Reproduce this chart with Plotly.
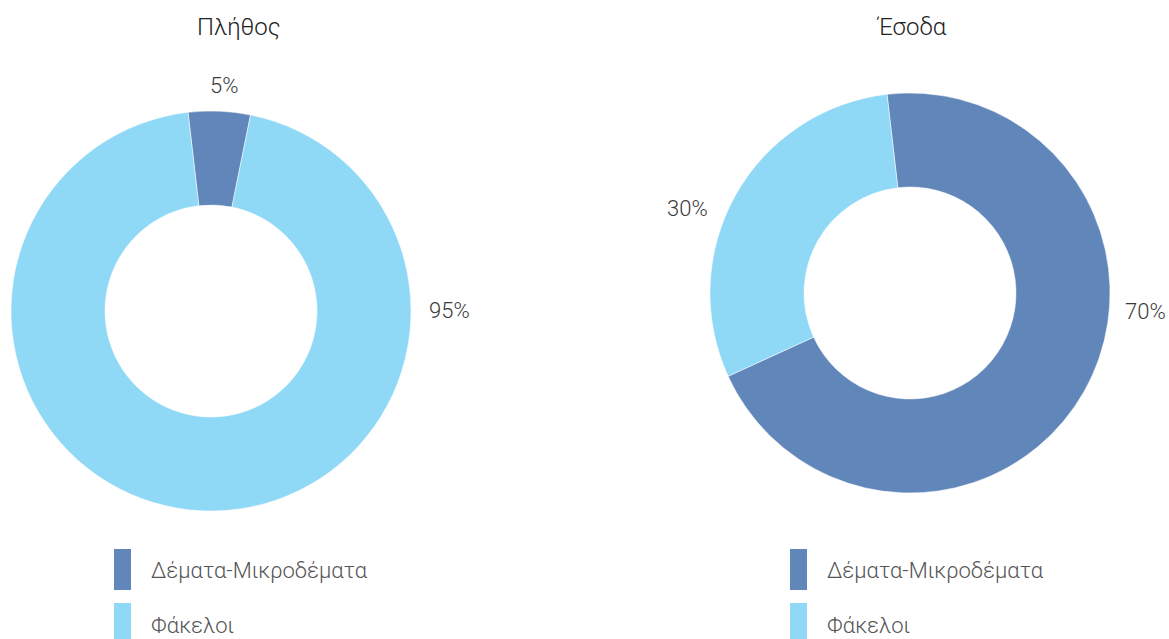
import plotly.graph_objects as go

categories = ["Δέματα-Μικροδέματα", "Φάκελοι"]
count_values = [5, 95]
revenue_values = [70, 30]
titles = ["Πλήθος", "Έσοδα"]
colors = ["#6186b9", "#8fd8f6"]

W, H = 1169, 639
FONT = "Roboto"
TXT = "#3a3a3a"

def px(x):
    return x / W

def py(y):
    return 1 - y / H

fig = go.Figure()

# pie geometry (pixels): center x, center y, radius
pies = [(211, 311, 200), (910, 293, 200)]
datasets = [count_values, revenue_values]

for (cx, cy, r), vals in zip(pies, datasets):
    fig.add_trace(go.Pie(
        labels=categories,
        values=vals,
        hole=0.53,
        sort=False,
        direction="clockwise",
        rotation=-6.6,
        marker=dict(colors=colors, line=dict(color="white", width=0.5)),
        textinfo="none",
        hoverinfo="label+percent",
        showlegend=False,
        domain=dict(x=[px(cx - r), px(cx + r)], y=[py(cy + r), py(cy - r)]),
    ))

annotations = []
# titles
for t, xc in zip(titles, [239, 911]):
    annotations.append(dict(text=t, x=px(xc), y=py(27), xref="paper", yref="paper",
                            showarrow=False, xanchor="center", yanchor="middle",
                            font=dict(family=FONT, size=24, color="#222", weight=300)))

# percentage labels (positions match the reference layout)
label_pos = [[(224, 85), (449, 311)], [(1145, 312), (687, 208)]]
for vals, poss in zip(datasets, label_pos):
    tot = sum(vals)
    for v, (lx, ly) in zip(vals, poss):
        annotations.append(dict(text=f"{round(100 * v / tot)}%", x=px(lx), y=py(ly),
                                xref="paper", yref="paper", showarrow=False,
                                xanchor="center", yanchor="middle",
                                font=dict(family=FONT, size=22, color=TXT, weight=300)))

# custom legends beneath each pie
shapes = []
legend_x = [114, 790]
legend_y = [(549, 590), (603, 645)]
for lx in legend_x:
    for cat, col, (y0, y1) in zip(categories, colors, legend_y):
        shapes.append(dict(type="rect", xref="paper", yref="paper",
                           x0=px(lx), x1=px(lx + 17), y0=py(y1), y1=py(y0),
                           fillcolor=col, line=dict(width=0)))
        annotations.append(dict(text=cat, x=px(lx + 35), y=py(min((y0 + y1) / 2 + 1, 625)),
                                xref="paper", yref="paper", showarrow=False,
                                xanchor="left", yanchor="middle",
                                font=dict(family=FONT, size=22, color="#555", weight=300)))

fig.update_layout(
    width=W, height=H,
    margin=dict(l=0, r=0, t=0, b=0),
    paper_bgcolor="white",
    plot_bgcolor="white",
    annotations=annotations,
    shapes=shapes,
    showlegend=False,
)

fig.write_html("out.html",
               config={"displayModeBar": False},
               post_script="document.body.style.margin='0';document.body.style.overflow='hidden';")
